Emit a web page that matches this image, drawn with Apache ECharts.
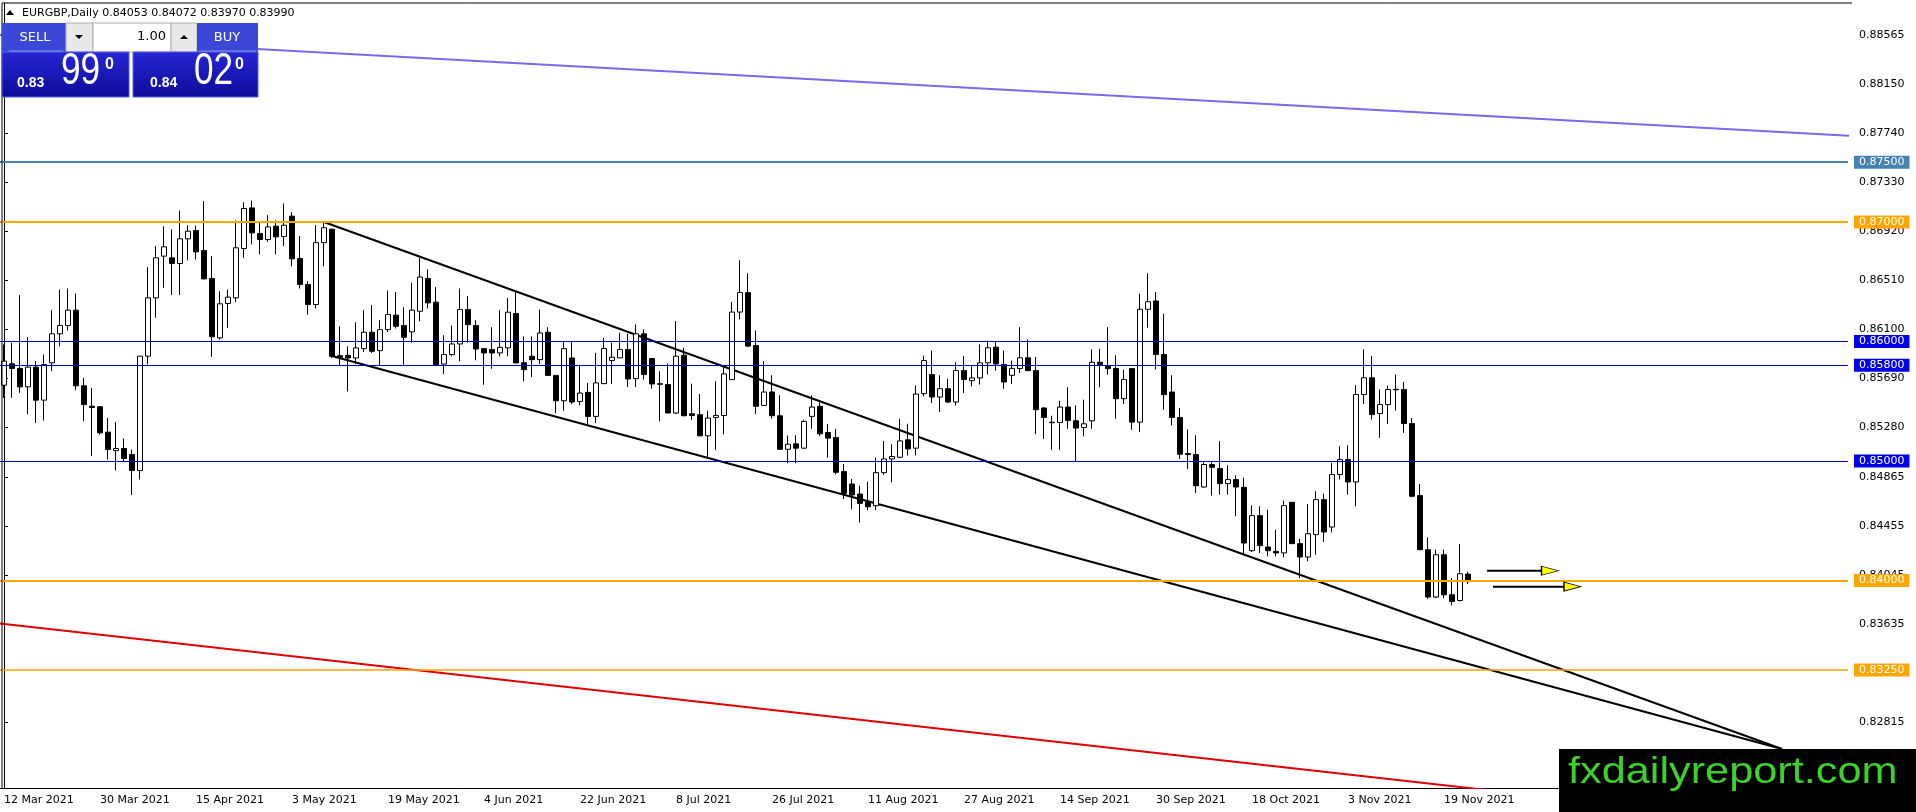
<!DOCTYPE html>
<html>
<head>
<meta charset="utf-8">
<title>EURGBP,Daily</title>
<script src="https://cdn.jsdelivr.net/npm/echarts@6/dist/echarts.min.js"></script>
<style>
    html, body { margin: 0; padding: 0; background: #fff; }
    #chart { width: 1916px; height: 812px; }
</style>
</head>
<body>
<div id="chart"></div>
<script>
// 日线 K 线数据（12 Mar 2021 - 24 Nov 2021，只含工作日）
var opens = [
    0.85634, 0.85813, 0.85774, 0.85620, 0.85785, 0.85509, 0.85821, 0.86064, 0.86134, 0.86262,
    0.85629, 0.85458, 0.85453, 0.85241, 0.85087, 0.85104, 0.85054, 0.84920, 0.85877, 0.86365,
    0.86714, 0.86700, 0.86653, 0.86859, 0.86929, 0.86761, 0.86527, 0.86030, 0.86318, 0.86365,
    0.86778, 0.87118, 0.86904, 0.86853, 0.86965, 0.86879, 0.87049, 0.86695, 0.86477, 0.86309,
    0.86827, 0.86939, 0.85881, 0.85884, 0.85862, 0.85940, 0.86077, 0.85923, 0.86099, 0.86220,
    0.86133, 0.86080, 0.86253, 0.86527, 0.86329, 0.85811, 0.85890, 0.85979, 0.86267, 0.86133,
    0.85940, 0.85932, 0.85904, 0.85946, 0.86234, 0.85822, 0.85876, 0.85848, 0.86077, 0.85716,
    0.85504, 0.85862, 0.85498, 0.85574, 0.85373, 0.85647, 0.85840, 0.85863, 0.85933, 0.85689,
    0.86064, 0.85857, 0.85646, 0.85639, 0.85401, 0.85885, 0.85395, 0.85387, 0.85210, 0.85364,
    0.85381, 0.85681, 0.86246, 0.86409, 0.85966, 0.85465, 0.85577, 0.85378, 0.85098, 0.85143,
    0.85107, 0.85373, 0.85457, 0.85238, 0.85196, 0.84911, 0.84807, 0.84723, 0.84653, 0.84625,
    0.84902, 0.85017, 0.85031, 0.85177, 0.85107, 0.85563, 0.85723, 0.85535, 0.85605, 0.85493,
    0.85756, 0.85672, 0.85695, 0.85821, 0.85952, 0.85807, 0.85717, 0.85773, 0.85863, 0.85756,
    0.85443, 0.85324, 0.85322, 0.85451, 0.85336, 0.85280, 0.85336, 0.85826, 0.85798, 0.85773,
    0.85521, 0.85773, 0.85325, 0.86269, 0.86339, 0.85891, 0.85577, 0.85364, 0.85062, 0.85053,
    0.84782, 0.84970, 0.84936, 0.84810, 0.84844, 0.84779, 0.84249, 0.84542, 0.84280, 0.84243,
    0.84230, 0.84654, 0.84308, 0.84196, 0.84383, 0.84676, 0.84447, 0.84886, 0.85011, 0.84824,
    0.85556, 0.85696, 0.85397, 0.85472, 0.85600, 0.85598, 0.85313, 0.84710, 0.84257, 0.83861,
    0.84215, 0.83880, 0.83832, 0.84053
];
var closes = [
    0.85835, 0.85774, 0.85620, 0.85785, 0.85509, 0.85807, 0.86064, 0.86134, 0.86262, 0.85629,
    0.85472, 0.85448, 0.85235, 0.85096, 0.85104, 0.85020, 0.84920, 0.85877, 0.86365, 0.86700,
    0.86792, 0.86653, 0.86859, 0.86923, 0.86750, 0.86524, 0.86039, 0.86315, 0.86371, 0.86784,
    0.87113, 0.86909, 0.86853, 0.86959, 0.86876, 0.86973, 0.86692, 0.86477, 0.86309, 0.86827,
    0.86952, 0.85876, 0.85867, 0.85862, 0.85946, 0.86077, 0.85918, 0.86099, 0.86225, 0.86127,
    0.86035, 0.86262, 0.86539, 0.86323, 0.85806, 0.85890, 0.85979, 0.86267, 0.86141, 0.85937,
    0.85904, 0.85904, 0.85951, 0.86245, 0.85820, 0.85764, 0.85848, 0.86071, 0.85716, 0.85504,
    0.85940, 0.85493, 0.85568, 0.85372, 0.85653, 0.85941, 0.85868, 0.85933, 0.85686, 0.86064,
    0.85723, 0.85644, 0.85642, 0.85401, 0.85877, 0.85378, 0.85381, 0.85210, 0.85359, 0.85381,
    0.85729, 0.86246, 0.86409, 0.85961, 0.85457, 0.85577, 0.85378, 0.85098, 0.85140, 0.85107,
    0.85331, 0.85451, 0.85227, 0.85191, 0.84905, 0.84729, 0.84715, 0.84645, 0.84617, 0.84902,
    0.85017, 0.85037, 0.85168, 0.85101, 0.85560, 0.85840, 0.85535, 0.85605, 0.85493, 0.85756,
    0.85681, 0.85695, 0.85821, 0.85947, 0.85812, 0.85661, 0.85775, 0.85863, 0.85756, 0.85429,
    0.85364, 0.85320, 0.85451, 0.85339, 0.85275, 0.85311, 0.85826, 0.85807, 0.85773, 0.85521,
    0.85681, 0.85325, 0.86269, 0.86333, 0.85891, 0.85555, 0.85364, 0.85056, 0.85053, 0.84793,
    0.84970, 0.84947, 0.84810, 0.84844, 0.84782, 0.84313, 0.84542, 0.84291, 0.84249, 0.84230,
    0.84626, 0.84308, 0.84196, 0.84391, 0.84676, 0.84405, 0.84886, 0.85011, 0.84824, 0.85556,
    0.85696, 0.85388, 0.85472, 0.85598, 0.85596, 0.85313, 0.84704, 0.84257, 0.83861, 0.84215,
    0.83880, 0.83824, 0.84056, 0.83990
];
var lows = [
    0.85528, 0.85528, 0.85570, 0.85389, 0.85319, 0.85338, 0.85751, 0.85961, 0.86092, 0.85592,
    0.85333, 0.85040, 0.85221, 0.85012, 0.84920, 0.84998, 0.84714, 0.84845, 0.85807, 0.86198,
    0.86449, 0.86388, 0.86388, 0.86678, 0.86686, 0.86519, 0.85871, 0.86016, 0.86114, 0.86329,
    0.86700, 0.86812, 0.86728, 0.86834, 0.86728, 0.86798, 0.86630, 0.86443, 0.86225, 0.86276,
    0.86631, 0.85862, 0.85800, 0.85582, 0.85811, 0.85912, 0.85904, 0.85800, 0.86080, 0.86108,
    0.85806, 0.85988, 0.86169, 0.86276, 0.85800, 0.85727, 0.85876, 0.85834, 0.85988, 0.85842,
    0.85638, 0.85772, 0.85876, 0.85876, 0.85820, 0.85666, 0.85702, 0.85811, 0.85716, 0.85400,
    0.85420, 0.85476, 0.85465, 0.85297, 0.85317, 0.85644, 0.85644, 0.85863, 0.85619, 0.85619,
    0.85681, 0.85605, 0.85331, 0.85401, 0.85392, 0.85378, 0.85345, 0.85210, 0.85023, 0.85093,
    0.85224, 0.85681, 0.86185, 0.85952, 0.85392, 0.85465, 0.85353, 0.85093, 0.84981, 0.84981,
    0.85101, 0.85269, 0.85210, 0.85028, 0.84888, 0.84681, 0.84594, 0.84485, 0.84589, 0.84589,
    0.84883, 0.84821, 0.85023, 0.85045, 0.85045, 0.85541, 0.85485, 0.85409, 0.85485, 0.85465,
    0.85569, 0.85625, 0.85639, 0.85723, 0.85756, 0.85605, 0.85644, 0.85737, 0.85751, 0.85225,
    0.85185, 0.85093, 0.85093, 0.85269, 0.84995, 0.85205, 0.85269, 0.85616, 0.85723, 0.85353,
    0.85476, 0.85261, 0.85241, 0.86115, 0.85765, 0.85429, 0.85297, 0.85017, 0.84933, 0.84732,
    0.84774, 0.84710, 0.84718, 0.84718, 0.84537, 0.84224, 0.84238, 0.84230, 0.84201, 0.84201,
    0.84193, 0.84308, 0.84020, 0.84160, 0.84215, 0.84322, 0.84402, 0.84844, 0.84718, 0.84620,
    0.85478, 0.85346, 0.85193, 0.85310, 0.85422, 0.85235, 0.84696, 0.84257, 0.83847, 0.83852,
    0.83852, 0.83791, 0.83824, 0.83970
];
var highs = [
    0.85975, 0.85989, 0.86388, 0.86036, 0.85835, 0.85891, 0.86262, 0.86435, 0.86443, 0.86401,
    0.85696, 0.85612, 0.85460, 0.85361, 0.85325, 0.85188, 0.85096, 0.85877, 0.86622, 0.86798,
    0.86965, 0.86937, 0.87096, 0.86971, 0.86971, 0.87174, 0.86714, 0.86421, 0.86435, 0.87012,
    0.87166, 0.87180, 0.86993, 0.87057, 0.87012, 0.87155, 0.87082, 0.86883, 0.86505, 0.86975,
    0.87000, 0.86945, 0.86127, 0.85960, 0.86161, 0.86262, 0.86304, 0.86178, 0.86427, 0.86413,
    0.86287, 0.86491, 0.86701, 0.86603, 0.86455, 0.86052, 0.86133, 0.86443, 0.86379, 0.86178,
    0.85946, 0.86119, 0.86262, 0.86365, 0.86416, 0.86044, 0.86044, 0.86267, 0.86119, 0.85716,
    0.85996, 0.85996, 0.85806, 0.85652, 0.85905, 0.86031, 0.85989, 0.86073, 0.86064, 0.86143,
    0.86101, 0.85857, 0.85751, 0.85815, 0.86171, 0.85947, 0.85647, 0.85560, 0.85420, 0.85667,
    0.85785, 0.86330, 0.86680, 0.86571, 0.86092, 0.85835, 0.85717, 0.85549, 0.85213, 0.85216,
    0.85345, 0.85549, 0.85490, 0.85308, 0.85269, 0.84975, 0.84849, 0.84793, 0.84827, 0.85028,
    0.85168, 0.85140, 0.85353, 0.85311, 0.85633, 0.85882, 0.85924, 0.85717, 0.85689, 0.85826,
    0.85877, 0.85793, 0.85975, 0.86008, 0.86003, 0.85924, 0.85840, 0.86120, 0.86017, 0.85871,
    0.85451, 0.85378, 0.85504, 0.85616, 0.85465, 0.85513, 0.85933, 0.85939, 0.86120, 0.85885,
    0.85765, 0.85773, 0.86400, 0.86571, 0.86414, 0.86232, 0.85717, 0.85443, 0.85263, 0.85215,
    0.84989, 0.84989, 0.85165, 0.84964, 0.84880, 0.84858, 0.84629, 0.84620, 0.84592, 0.84425,
    0.84668, 0.84654, 0.84349, 0.84640, 0.84746, 0.84724, 0.84984, 0.85123, 0.85131, 0.85634,
    0.85933, 0.85877, 0.85598, 0.85631, 0.85724, 0.85660, 0.85360, 0.84807, 0.84361, 0.84257,
    0.84257, 0.84020, 0.84305, 0.84072
];

// 价格轴刻度
var yTickValues = [0.88565, 0.88150, 0.87740, 0.87330, 0.86920, 0.86510, 0.86100, 0.85690,
    0.85280, 0.84865, 0.84455, 0.84045, 0.83635, 0.82815];

// 水平支撑阻力位
var levelValues = [0.87500, 0.87000, 0.86000, 0.85800, 0.85000, 0.84000, 0.83250];

// 趋势线 [K线序号, 价格]
var upperTrend = [[39.9, 0.87002], [222.25, 0.82589]];
var lowerTrend = [[40.875, 0.85881], [222.25, 0.82589]];
var purpleLine = [[-0.5, 0.88566], [231, 0.87720]];
var redLine = [[-0.5, 0.83640], [240, 0.81836]];
var arrowOne = [[185.375, 0.84081], [193.25, 0.84081]];
var arrowTwo = [[186.125, 0.83948], [196.06, 0.83948]];
var arrowHeads = [[193.25, 0.84081], [196.06, 0.83948]];

var totalSlots = 231;
var monthNames = ['Jan', 'Feb', 'Mar', 'Apr', 'May', 'Jun', 'Jul', 'Aug', 'Sep', 'Oct', 'Nov', 'Dec'];

// 日期（工作日）
var categories = [];
var day = new Date(Date.UTC(2021, 2, 12));
while (categories.length < opens.length) {
    var wd = day.getUTCDay();
    if (wd !== 0 && wd !== 6) {
        categories.push(day.getUTCDate() + ' ' + monthNames[day.getUTCMonth()] + ' ' + day.getUTCFullYear());
    }
    day.setUTCDate(day.getUTCDate() + 1);
}
for (var k = categories.length; k < totalSlots; k++) {
    categories.push('_' + k);
}

var candles = [];
for (var i = 0; i < opens.length; i++) {
    candles.push([opens[i], closes[i], lows[i], highs[i]]);
}

var font = 'DejaVu Sans';

function levelStyle(v) {
    if (v === 0.875) return { color: '#4682b4', bg: '#4682b4', width: 2 };
    if (v === 0.87 || v === 0.84) return { color: '#ffa500', bg: '#ffa500', width: 2 };
    if (v === 0.8325) return { color: '#ffa500', bg: '#ffa500', width: 1.5 };
    return { color: '#0000cd', bg: '#0000e6', width: 1.2 };
}

var levelLines = levelValues.map(function (v) {
    var s = levelStyle(v);
    return {
        yAxis: v,
        lineStyle: { color: s.color, width: s.width, type: 'solid' },
        label: {
            show: true,
            position: 'end',
            distance: 6,
            formatter: v.toFixed(5),
            color: '#fff',
            backgroundColor: s.bg,
            padding: [1, 5, 1, 5],
            fontSize: 11,
            fontFamily: font
        }
    };
});

function showDate(index) {
    return index % 12 === 0 && index < opens.length;
}

function trend(data, color, width) {
    return {
        type: 'line',
        xAxisIndex: 1,
        data: data,
        symbol: 'none',
        silent: true,
        z: 3,
        lineStyle: { color: color, width: width }
    };
}

var myChart = echarts.init(document.getElementById('chart'));

var option = {
    animation: false,
    backgroundColor: '#fff',
    grid: { left: 0, right: 68, top: 3, bottom: 24 },
    xAxis: [{
        type: 'category',
        data: categories,
        boundaryGap: true,
        axisLine: { lineStyle: { color: '#000', width: 1 } },
        axisTick: {
            alignWithLabel: true,
            interval: showDate,
            length: 5,
            lineStyle: { color: '#000' }
        },
        axisLabel: {
            interval: showDate,
            align: 'left',
            margin: 7,
            color: '#000',
            fontSize: 11,
            fontFamily: font
        },
        splitLine: { show: false }
    }, {
        type: 'value',
        min: -0.5,
        max: totalSlots - 0.5,
        show: false
    }],
    yAxis: {
        type: 'value',
        position: 'right',
        offset: 4,
        min: 0.822627,
        max: 0.888328,
        axisLine: { show: true, lineStyle: { color: '#000', width: 1 } },
        axisTick: { show: true, length: 4, customValues: yTickValues, lineStyle: { color: '#000' } },
        axisLabel: {
            customValues: yTickValues,
            margin: 7,
            color: '#000',
            fontSize: 11,
            fontFamily: font,
            formatter: function (v) { return v.toFixed(5); }
        },
        splitLine: { show: false }
    },
    series: [
        trend(purpleLine, '#7b68ee', 2),
        trend(redLine, '#e00000', 2),
        trend(upperTrend, '#000', 2),
        trend(lowerTrend, '#000', 2),
        {
            type: 'candlestick',
            xAxisIndex: 0,
            data: candles,
            barWidth: 5,
            z: 4,
            itemStyle: {
                color: '#fff',
                color0: '#000',
                borderColor: '#000',
                borderColor0: '#000',
                borderColorDoji: '#000',
                borderWidth: 1
            },
            markLine: {
                silent: true,
                precision: 5,
                symbol: ['none', 'none'],
                animation: false,
                data: levelLines
            }
        },
        trend(arrowOne, '#000', 2),
        trend(arrowTwo, '#000', 2),
        {
            type: 'scatter',
            xAxisIndex: 1,
            data: arrowHeads,
            symbol: 'triangle',
            symbolSize: [9, 17],
            symbolRotate: -90,
            silent: true,
            z: 6,
            itemStyle: { color: '#ffff00', borderColor: '#000', borderWidth: 1, opacity: 1 }
        }
    ],
    graphic: [
        // 图表边框
        { type: 'line', z: 50, shape: { x1: 2, y1: 3, x2: 1852, y2: 3 }, style: { stroke: '#000', lineWidth: 1 } },
        { type: 'line', z: 50, shape: { x1: 2, y1: 3, x2: 2, y2: 788 }, style: { stroke: '#000', lineWidth: 1 } },
        { type: 'line', z: 50, shape: { x1: 1848, y1: 788, x2: 1852, y2: 788 }, style: { stroke: '#000', lineWidth: 1 } },
        // 标题
        { type: 'polygon', z: 100, shape: { points: [[6, 15], [14, 15], [10, 10]] }, style: { fill: '#000' } },
        {
            type: 'text', z: 100, x: 22, y: 13,
            style: { text: 'EURGBP,Daily 0.84053 0.84072 0.83970 0.83990', fill: '#000', font: '11px "DejaVu Sans"', textVerticalAlign: 'middle', verticalAlign: 'middle' }
        },
        // 一键交易面板
        { type: 'rect', z: 100, shape: { x: 2, y: 23, width: 64, height: 29 }, style: { fill: '#3a48d8' } },
        { type: 'line', z: 101, shape: { x1: 9, y1: 51, x2: 63, y2: 51 }, style: { stroke: '#8c96ee', lineWidth: 1 } },
        { type: 'rect', z: 100, shape: { x: 66, y: 23, width: 27, height: 29 }, style: { fill: '#e8e8e8', stroke: '#b0b0b0' } },
        { type: 'polygon', z: 101, shape: { points: [[75, 35], [83, 35], [79, 39]] }, style: { fill: '#000' } },
        { type: 'rect', z: 100, shape: { x: 93, y: 23, width: 78, height: 29 }, style: { fill: '#fff', stroke: '#b0b0b0' } },
        { type: 'rect', z: 100, shape: { x: 171, y: 23, width: 26, height: 29 }, style: { fill: '#e8e8e8', stroke: '#b0b0b0' } },
        { type: 'polygon', z: 101, shape: { points: [[180, 39], [188, 39], [184, 35]] }, style: { fill: '#000' } },
        { type: 'rect', z: 100, shape: { x: 197, y: 23, width: 61, height: 29 }, style: { fill: '#3a48d8' } },
        { type: 'line', z: 101, shape: { x1: 199, y1: 51, x2: 256, y2: 51 }, style: { stroke: '#8c96ee', lineWidth: 1 } },
        {
            type: 'rect', z: 100, shape: { x: 2, y: 52, width: 127, height: 45 },
            style: { fill: new echarts.graphic.LinearGradient(0, 0, 0, 1, [{ offset: 0, color: '#2626d6' }, { offset: 1, color: '#0c0c98' }]), stroke: '#5a62e0' }
        },
        {
            type: 'rect', z: 100, shape: { x: 133, y: 52, width: 125, height: 45 },
            style: { fill: new echarts.graphic.LinearGradient(0, 0, 0, 1, [{ offset: 0, color: '#2626d6' }, { offset: 1, color: '#0c0c98' }]), stroke: '#5a62e0' }
        },
        { type: 'text', z: 102, x: 35, y: 38, style: { text: 'SELL', fill: '#fff', font: '13px "DejaVu Sans"', textAlign: 'center', align: 'center', textVerticalAlign: 'middle', verticalAlign: 'middle' } },
        { type: 'text', z: 102, x: 227, y: 38, style: { text: 'BUY', fill: '#fff', font: '13px "DejaVu Sans"', textAlign: 'center', align: 'center', textVerticalAlign: 'middle', verticalAlign: 'middle' } },
        { type: 'text', z: 102, x: 166, y: 37, style: { text: '1.00', fill: '#000', font: '13px "DejaVu Sans"', textAlign: 'right', align: 'right', textVerticalAlign: 'middle', verticalAlign: 'middle' } },
        { type: 'text', z: 102, x: 17, y: 83, style: { text: '0.83', fill: '#fff', font: 'bold 14px "Liberation Sans"', textVerticalAlign: 'middle', verticalAlign: 'middle' } },
        { type: 'text', z: 102, x: 61, y: 72, scaleX: 0.8, style: { text: '99', fill: '#fff', font: '44px "Liberation Sans"', textVerticalAlign: 'middle', verticalAlign: 'middle' } },
        { type: 'text', z: 102, x: 105, y: 65, style: { text: '0', fill: '#fff', font: 'bold 16px "Liberation Sans"', textVerticalAlign: 'middle', verticalAlign: 'middle' } },
        { type: 'text', z: 102, x: 150, y: 83, style: { text: '0.84', fill: '#fff', font: 'bold 14px "Liberation Sans"', textVerticalAlign: 'middle', verticalAlign: 'middle' } },
        { type: 'text', z: 102, x: 194, y: 72, scaleX: 0.8, style: { text: '02', fill: '#fff', font: '44px "Liberation Sans"', textVerticalAlign: 'middle', verticalAlign: 'middle' } },
        { type: 'text', z: 102, x: 235, y: 65, style: { text: '0', fill: '#fff', font: 'bold 16px "Liberation Sans"', textVerticalAlign: 'middle', verticalAlign: 'middle' } },
        // 水印
        { type: 'rect', z: 110, shape: { x: 1559, y: 749, width: 357, height: 63 }, style: { fill: '#000' } },
        { type: 'text', z: 111, x: 1568, y: 773, scaleX: 1.17, style: { text: 'fxdailyreport.com', fill: '#3cd22a', font: '37px "Liberation Sans"', textVerticalAlign: 'middle', verticalAlign: 'middle' } }
    ]
};

// 使用刚指定的配置项和数据显示图表。
myChart.setOption(option);
</script>
</body>
</html>
